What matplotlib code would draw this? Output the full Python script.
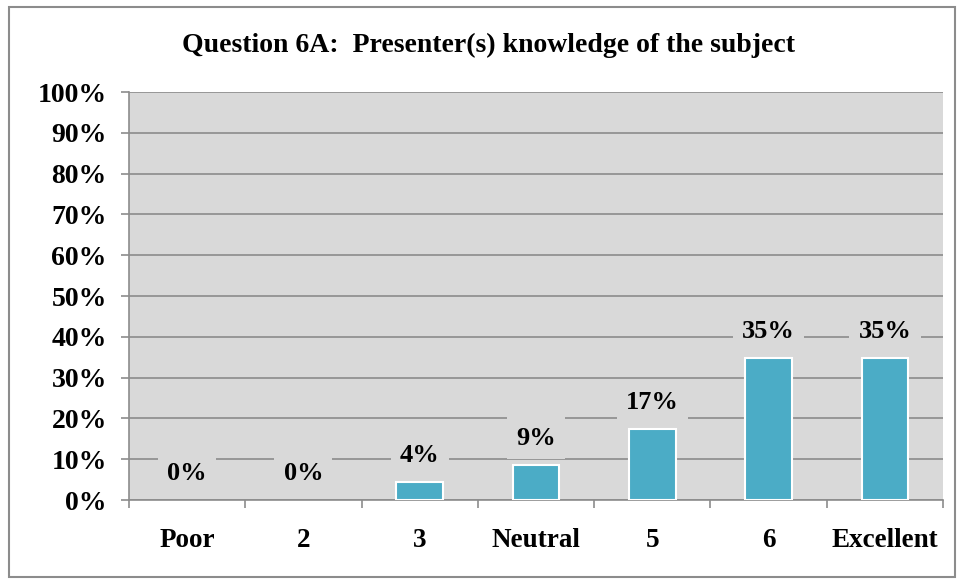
import matplotlib.pyplot as plt
import numpy as np
from matplotlib.patches import Rectangle

categories = ['Poor', '2', '3', 'Neutral', '5', '6', 'Excellent']
values = [0, 0, 4.35, 8.7, 17.4, 34.8, 34.8]
labels = ['0%', '0%', '4%', '9%', '17%', '35%', '35%']

plt.rcParams['font.family'] = ['Liberation Serif', 'DejaVu Serif']
plt.rcParams['font.weight'] = 'bold'

fig = plt.figure(figsize=(9.6, 5.84), dpi=100)
fig.patches.append(Rectangle((9 / 960, 7 / 584), 946 / 960, 570 / 584, transform=fig.transFigure,
                             fill=False, edgecolor='#8c8c8c', linewidth=1.5))
ax = fig.add_axes([129 / 960, 1 - 500 / 584, 814 / 960, 408 / 584])
bg = '#d9d9d9'
ax.set_facecolor(bg)

x = np.arange(len(categories))
lw = [1.5 if v > 0 else 0 for v in values]
ax.bar(x, values, width=0.4, color='#4bacc6', edgecolor='white', linewidth=lw, zorder=3)
for xi, v, lab in zip(x, values, labels):
    ax.annotate(lab, (xi, v), xytext=(0, 19), textcoords='offset points', ha='center', va='center',
                fontsize=19, fontweight='bold', zorder=4,
                bbox=dict(boxstyle='square,pad=0.35', facecolor=bg, edgecolor='none'))

ax.set_xlim(-0.5, len(categories) - 0.5)
ax.set_ylim(0, 100)
ax.set_yticks(np.arange(0, 101, 10))
ax.set_yticklabels([f'{t}%' for t in range(0, 101, 10)], fontsize=20, fontweight='bold')
ax.yaxis.grid(True, color='#8c8c8c', linewidth=1.2, zorder=0)
ax.set_axisbelow(True)

ax.set_xticks(x)
ax.set_xticklabels(categories, fontsize=19.5, fontweight='bold')
ax.tick_params(axis='x', length=0, pad=20)
ax.set_xticks(np.arange(-0.5, len(categories)), minor=True)
ax.tick_params(axis='x', which='minor', length=6, color='#8c8c8c', width=1.2)
ax.tick_params(axis='y', length=6, color='#8c8c8c', width=1.2, pad=10)

for s in ['top', 'right']:
    ax.spines[s].set_visible(False)
for s in ['left', 'bottom']:
    ax.spines[s].set_color('#8c8c8c')
    ax.spines[s].set_linewidth(1.2)

fig.text(488 / 960, 1 - 45 / 584, 'Question 6A:  Presenter(s) knowledge of the subject',
         ha='center', va='center', fontsize=20, fontweight='bold')

fig.savefig('out.png', dpi=100)
